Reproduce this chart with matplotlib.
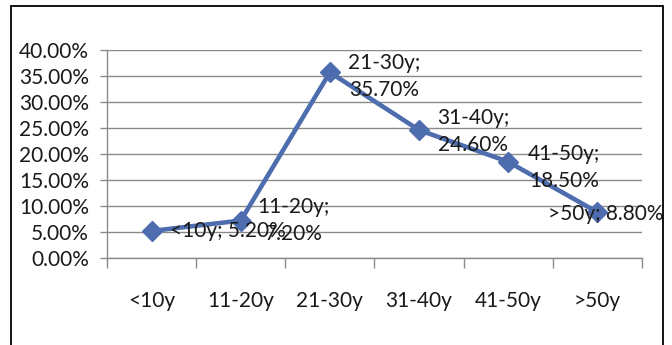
import numpy as np
import matplotlib
matplotlib.use('Agg')
import matplotlib.pyplot as plt
from matplotlib.patches import Rectangle
from matplotlib.ticker import FuncFormatter

plt.rcParams['font.family'] = ['Lato', 'DejaVu Sans']

categories = ['<10y', '11-20y', '21-30y', '31-40y', '41-50y', '>50y']
values = [0.052, 0.072, 0.357, 0.246, 0.185, 0.088]
labels = ['<10y; 5.20%', '11-20y;\n7.20%', '21-30y;\n35.70%', '31-40y;\n24.60%',
          '41-50y;\n18.50%', '>50y; 8.80%']
y_ticks = np.arange(0, 0.401, 0.05)

fig = plt.figure(figsize=(6.72, 3.45), dpi=100)
ax = fig.add_axes([107/672, 1-258/345, (642-107)/672, (258-50)/345])

line_color = '#4E6DAE'
x = np.arange(len(categories))
ax.plot(x, values, color=line_color, lw=3.3, marker='D', ms=10, mec=line_color, mfc=line_color, zorder=3)

ax.set_xlim(-0.5, len(categories)-0.5)
ax.set_ylim(0, 0.40)
ax.set_yticks(y_ticks)
ax.yaxis.set_major_formatter(FuncFormatter(lambda v, p: '{:.2f}%'.format(v*100)))
ax.grid(axis='y', color='#8a8a8a', lw=1)
ax.set_axisbelow(True)

ax.set_xticks(x)
ax.set_xticklabels(categories)
ax.set_xticks(np.arange(-0.5, len(categories), 1), minor=True)
ax.tick_params(axis='x', which='major', length=0, pad=24, labelsize=15, colors='#1a1a1a')
ax.tick_params(axis='x', which='minor', length=7, width=1, color='#8a8a8a', direction='out')
ax.tick_params(axis='y', length=5, width=1, color='#8a8a8a', pad=8, labelsize=15, labelcolor='#1a1a1a')

for s in ['top', 'right']:
    ax.spines[s].set_visible(False)
for s in ['left', 'bottom']:
    ax.spines[s].set_color('#8a8a8a')
    ax.spines[s].set_linewidth(1)

# label offsets in points, roughly as in the original
offsets = [(13, 0, 'left'), (38, 0, 'center'), (39, -3, 'center'),
           (39, -1, 'center'), (40, -4, 'center'), (6, -1, 'center')]
for xi, v, lab, (dx, dy, ha) in zip(x, values, labels, offsets):
    ax.annotate(lab, (xi, v), xytext=(dx, dy), textcoords='offset points',
                ha=ha, va='center', multialignment='center', linespacing=1.45,
                fontsize=15, color='#1a1a1a', zorder=4)

fig.patches.append(Rectangle((11/672, -0.05), (663-11)/672, 1.05-6/345, transform=fig.transFigure,
                             fill=False, ec='black', lw=1.3))

fig.savefig('out.png', dpi=100)
